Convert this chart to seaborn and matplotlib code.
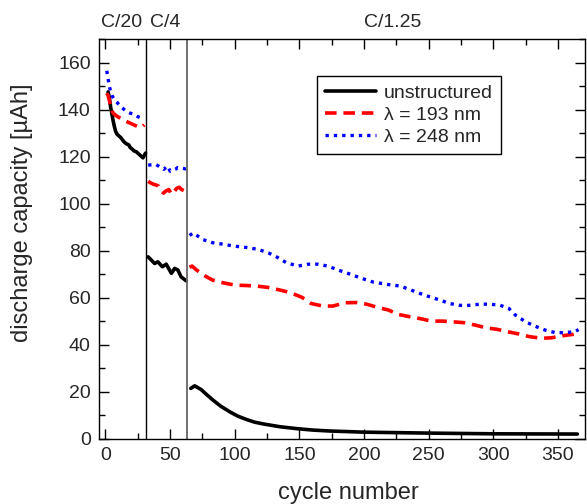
import numpy as np
import pandas as pd
import seaborn as sns
import matplotlib.pyplot as plt
from matplotlib.ticker import MultipleLocator

# unstructured electrode
unstr_cycle = [2, 3, 4, 5, 6, 7, 8, 9, 10, 12, 14, 16, 18, 19, 20, 22, 24, 26, 28, 29, 30, 31,
               33, 35, 38, 40.5, 44, 47, 51, 53.5, 56, 58.5, 62.5,
               66, 69, 74, 78, 83, 89, 96, 102, 109, 115, 122, 135, 148, 160, 173, 200, 250, 300, 365]
unstr_cap = [147.5, 145, 141, 138, 135, 132.5, 130.5, 129.5, 129, 128, 126.5, 125.5, 125, 124, 123.5, 122.5, 122, 121, 120, 119.5, 120.5, 121.5,
             77.4, 76.3, 74.6, 75.3, 73.2, 74.3, 70.4, 72.5, 71.8, 68.9, 67.2,
             21.5, 22.6, 21, 19, 16.6, 14, 11.6, 9.8, 8.3, 7.2, 6.4, 5.2, 4.4, 3.8, 3.4, 2.9, 2.5, 2.2, 2.1]

# lambda = 193 nm
l193_cycle = [1, 2, 3, 4, 5, 6, 8, 10, 12, 14, 16, 18, 20, 22, 24, 26, 28, 30,
              33, 35, 37, 39, 41, 43, 45, 47, 49, 51, 53, 55, 57, 59, 61, 63,
              65, 67, 70, 74, 78, 83, 90, 100, 110, 117, 126, 135, 143, 152, 159, 168, 176, 185, 194, 202,
              210, 219, 226, 235, 244, 252, 261, 269, 278, 286, 294, 303, 311, 320, 328, 337, 345, 354, 362, 366]
l193_cap = [147, 146, 144, 141, 139.5, 138.5, 137.5, 136.8, 136.2, 135.6, 135, 134.5, 134, 133.5, 133, 132.5, 132.5, 133.5,
            109.5, 108.8, 108.3, 108, 107.5, 105.5, 104.5, 105.5, 106, 104, 105, 106.5, 107, 106, 105.5, 106,
            73, 73.5, 72, 70.4, 69, 67.5, 66.5, 65.4, 65.2, 65, 64.4, 63.3, 62.2, 60.2, 57.6, 56.5, 56.5, 57.9, 58, 57.3,
            56, 54.8, 53, 52, 51.1, 50.1, 50.1, 49.8, 49.4, 48.4, 47.3, 46.6, 45.6, 44.6, 43.5, 42.8, 43, 43.9, 44.5, 45]

# lambda = 248 nm
l248_cycle = [1, 2, 3, 4, 5, 7, 9, 11, 13, 15, 17, 19, 21, 23, 25, 27, 29, 30,
              33, 35, 37, 39, 41, 43, 45, 47, 48, 50, 52, 54, 56, 58, 60, 62, 63,
              65, 68, 75, 83, 91, 99, 109, 118, 126, 133, 140, 149, 157, 164, 172, 180, 189, 198, 207, 218,
              228, 235, 243, 251, 259, 266, 274, 281, 290, 297, 305, 312, 317, 325, 332, 340, 348, 355, 363, 366]
l248_cap = [156.5, 153, 150, 147.5, 146, 144, 143, 141.8, 140.7, 139.8, 139, 138.5, 138.2, 137.7, 137, 136.5, 137, 137.2,
            116.4, 116.5, 116.6, 116.7, 116, 115.2, 114.6, 115.5, 116, 113.8, 114.2, 114.6, 115.4, 115.2, 115, 114.8, 115,
            86.5, 87.6, 84.8, 83.4, 82.8, 82, 81.4, 80.6, 79.1, 77.2, 74.9, 73.5, 74.3, 74.3, 73.5, 71.8, 70.1, 68.3, 66.7, 65.7,
            65, 63.6, 61.9, 60.4, 59, 57.6, 56.8, 56.8, 57.3, 57.3, 56.9, 55.5, 52.7, 49.8, 48, 46.3, 45.2, 45.2, 45.6, 46.5]

rate_labels = ['C/20', 'C/4', 'C/1.25']
rate_centers = [12.5, 46.5, 222]
rate_edges = [31.7, 62.8]      # where the C-rate changes
segment_edges = [32, 64]       # used to split each curve into its rate blocks

sns.set_style('ticks')
plt.rcParams['font.family'] = ['Liberation Sans', 'DejaVu Sans']
plt.rcParams['xtick.direction'] = 'in'
plt.rcParams['ytick.direction'] = 'in'

fig = plt.figure(figsize=(5.87, 5.04), dpi=100)
ax = fig.add_axes([0.1687, 0.129, 0.828, 0.7936])

series = [
    ('unstructured', unstr_cycle, unstr_cap, 'black', '-', 2.6),
    ('\u03bb = 193 nm', l193_cycle, l193_cap, '#ff0000', (0, (3.2, 1.9)), 2.6),
    ('\u03bb = 248 nm', l248_cycle, l248_cap, '#0000ff', (0, (1.0, 1.5)), 2.4),
]

for name, cyc, cap, col, ls, lw in series:
    df = pd.DataFrame({'cycle': cyc, 'capacity': cap})
    df['segment'] = np.digitize(df['cycle'], segment_edges)
    first = True
    for seg, part in df.groupby('segment'):
        sns.lineplot(data=part, x='cycle', y='capacity', ax=ax, color=col, linestyle=ls,
                     linewidth=lw, label=name if first else None, legend=False)
        first = False

ax.axvline(rate_edges[0], color='black', lw=1)
ax.axvline(rate_edges[1], color='0.4', lw=1.3)

for lab, xc in zip(rate_labels, rate_centers):
    ax.text(xc, 1.03, lab, transform=ax.get_xaxis_transform(), ha='center', va='baseline', fontsize=14)

ax.set_xlim(-5, 371)
ax.set_ylim(0, 170)
ax.xaxis.set_major_locator(MultipleLocator(50))
ax.xaxis.set_minor_locator(MultipleLocator(25))
ax.yaxis.set_major_locator(MultipleLocator(20))
ax.yaxis.set_minor_locator(MultipleLocator(10))
ax.tick_params(which='both', top=True, right=True, labelsize=14, width=1, color='black')
ax.tick_params(which='major', length=7, pad=6)
ax.tick_params(which='minor', length=4)
for sp in ax.spines.values():
    sp.set_visible(True)
    sp.set_color('black')
    sp.set_linewidth(1)

ax.set_xlabel('cycle number', fontsize=17)
ax.set_ylabel('discharge capacity [\u00b5Ah]', fontsize=17)
ax.xaxis.set_label_coords(0.512, -0.108)
ax.yaxis.set_label_coords(-0.135, 0.565)

leg = ax.legend(loc='upper right', bbox_to_anchor=(0.827, 0.9075), fontsize=14, frameon=True,
                fancybox=False, framealpha=1, edgecolor='black', handlelength=2.6,
                borderpad=0.42, labelspacing=0.22, handletextpad=0.4, borderaxespad=0)
leg.get_frame().set_linewidth(1)

fig.savefig('out.png', dpi=100)
